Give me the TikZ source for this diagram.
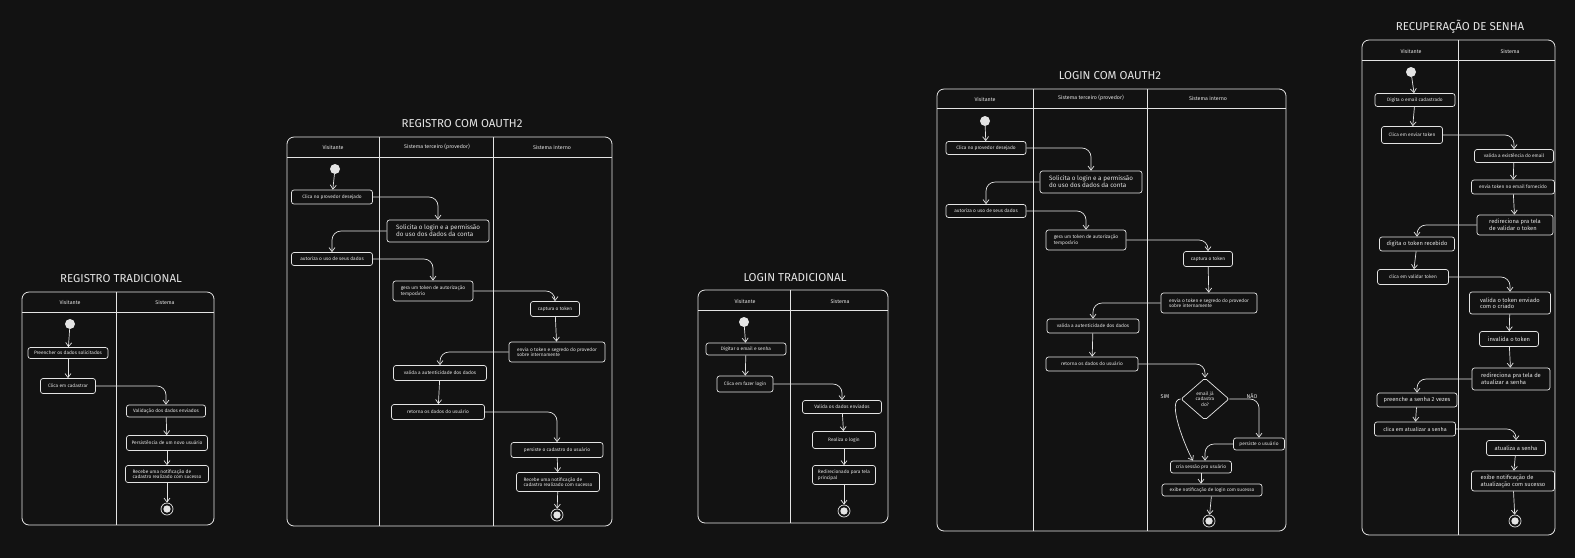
\documentclass[tikz,border=0pt]{standalone}
\usepackage{fontspec}
\setmainfont{Fira Sans}
\usetikzlibrary{arrows.meta,shapes.geometric}
\definecolor{bg}{HTML}{121212}
\definecolor{fg}{HTML}{E4E4E4}
\tikzset{
 box/.style={draw=fg,line width=0.7pt,rounded corners=2.5pt,inner sep=1pt,font=\fontsize{4.8}{5.6}\selectfont,text=fg,align=left},
 arr/.style={draw=fg,line width=0.7pt,-{Straight Barb[length=4pt,width=6pt]},rounded corners=9pt},
 frame/.style={draw=fg,line width=0.8pt,rounded corners=7pt},
 lane/.style={draw=fg,line width=0.8pt},
 hdr/.style={text=fg,font=\fontsize{5.3}{6}\selectfont},
 ttl/.style={text=fg,font=\fontsize{11.5}{13}\selectfont},
 start/.style={circle,fill=fg,minimum size=10pt,inner sep=0pt},
 stop/.style={circle,draw=fg,line width=0.7pt,minimum size=12pt,inner sep=0pt,path picture={\fill[fg] (path picture bounding box.center) circle (3.7pt);}},
 lbl/.style={text=fg,font=\fontsize{5.5}{6}\selectfont}
}
\newcommand\bx[6]{\node[box,minimum width=#4pt,minimum height=#5pt] (#1) at (#2,#3) {#6};}
\begin{document}
\begin{tikzpicture}[x=1pt,y=-1pt]
\fill[bg] (0,0) rectangle (1575,558);
\useasboundingbox (0,0) rectangle (1575,558);

% ===== Diagram 1
\node[ttl] (t1) at (121,279) {REGISTRO TRADICIONAL};
\draw[frame] (22,292) rectangle (214,525);
\draw[lane] (22,312) -- (214,312);
\draw[lane] (116,292) -- (116,525);
\node[hdr] (h1a) at (70,302) {Visitante};
\node[hdr] (h1b) at (165,302) {Sistema};
\node[start] (s1) at (70,324) {};
\bx{a1}{68}{353}{80}{11}{Preencher os dados solicitados}
\bx{a2}{68}{386}{55}{15}{Clica em cadastrar}
\bx{b1}{166}{411}{79}{12}{Validação dos dados enviados}
\bx{b2}{167}{443}{81}{15}{Persistência de um novo usuário}
\bx{b3}{167}{474}{83}{17}{Recebe uma notificação de\\cadastro realizado com sucesso}
\node[stop] (e1) at (167,509) {};
\draw[arr] (s1) -- (a1);
\draw[arr] (a1) -- (a2);
\draw[arr] (a2.east) -| (b1.north);
\draw[arr] (b1) -- (b2);
\draw[arr] (b2) -- (b3);
\draw[arr] (b3) -- (e1);

% ===== Diagram 2
\node[ttl] (t2) at (462,124) {REGISTRO COM OAUTH2};
\draw[frame] (287,137) rectangle (612,526);
\draw[lane] (287,157) -- (612,157);
\draw[lane] (379,137) -- (379,526);
\draw[lane] (493,137) -- (493,526);
\node[hdr] (h2a) at (333,147) {Visitante};
\node[hdr] (h2b) at (437,147) {Sistema terceiro (provedor)};
\node[hdr] (h2c) at (552,147) {Sistema interno};
\node[start] (s2) at (335,169) {};
\bx{c1}{332}{197}{81}{14}{Clica no provedor desejado}
\bx{c2}{438}{231}{102}{22}{\fontsize{6.3}{7}\selectfont Solicita o login e a permissão\\\fontsize{6.3}{7}\selectfont do uso dos dados da conta}
\bx{c3}{332}{259}{81}{13}{autoriza o uso de seus dados}
\bx{c4}{433}{291}{80}{20}{gera um token de autorização\\temporário}
\bx{c5}{555}{309}{49}{15}{captura o token}
\bx{c6}{557}{352}{96}{20}{envia o token e segredo do provedor\\sobre internamente}
\bx{c7}{440}{373}{93}{15}{valida a autenticidade dos dados}
\bx{c8}{438}{412}{93}{15}{retorna os dados do usuário}
\bx{c9}{557}{450}{92}{15}{persiste o cadastro do usuário}
\bx{c10}{558}{482}{83}{19}{Recebe uma notificação de\\cadastro realizado com sucesso}
\node[stop] (e2) at (557,515) {};
\draw[arr] (s2) -- (c1);
\draw[arr] (c1.east) -| (c2.north);
\draw[arr] (c2.west) -| (c3.north);
\draw[arr] (c3.east) -| (c4.north);
\draw[arr] (c4.east) -| (c5.north);
\draw[arr] (c5) -- (c6);
\draw[arr] (c6.west) -| (c7.north);
\draw[arr] (c7) -- (c8);
\draw[arr] (c8.east) -| (c9.north);
\draw[arr] (c9) -- (c10);
\draw[arr] (c10) -- (e2);

% ===== Diagram 3
\node[ttl] (t3) at (795,278) {LOGIN TRADICIONAL};
\draw[frame] (698,290) rectangle (888,523);
\draw[lane] (698,310) -- (888,310);
\draw[lane] (790,290) -- (790,523);
\node[hdr] (h3a) at (745,301) {Visitante};
\node[hdr] (h3b) at (840,301) {Sistema};
\node[start] (s3) at (744,322) {};
\bx{d1}{746}{349}{80}{12}{Digitar o email e senha}
\bx{d2}{745}{384}{56}{16}{Clica em fazer login}
\bx{f1}{842}{407}{79}{13}{Valida os dados enviados}
\bx{f2}{844}{440}{63}{17}{Realiza o login}
\bx{f3}{844}{475}{63}{19}{Redirecionado para tela\\principal}
\node[stop] (e3) at (844,511) {};
\draw[arr] (s3) -- (d1);
\draw[arr] (d1) -- (d2);
\draw[arr] (d2.east) -| (f1.north);
\draw[arr] (f1) -- (f2);
\draw[arr] (f2) -- (f3);
\draw[arr] (f3) -- (e3);

% ===== Diagram 4
\node[ttl] (t4) at (1110,76) {LOGIN COM OAUTH2};
\draw[frame] (937,89) rectangle (1286,531);
\draw[lane] (937,108) -- (1286,108);
\draw[lane] (1033,89) -- (1033,531);
\draw[lane] (1147,89) -- (1147,531);
\node[hdr] (h4a) at (985,99) {Visitante};
\node[hdr] (h4b) at (1091,98) {Sistema terceiro (provedor)};
\node[hdr] (h4c) at (1208,98) {Sistema interno};
\node[start] (s4) at (985,121) {};
\bx{g1}{986}{148}{80}{13}{Clica no provedor desejado}
\bx{g2}{1091}{182}{102}{22}{\fontsize{6.3}{7}\selectfont Solicita o login e a permissão\\\fontsize{6.3}{7}\selectfont do uso dos dados da conta}
\bx{g3}{986}{211}{80}{13}{autoriza o uso de seus dados}
\bx{g4}{1086}{240}{80}{20}{gera um token de autorização\\temporário}
\bx{g5}{1208}{259}{49}{15}{captura o token}
\bx{g6}{1209}{303}{96}{20}{envia o token e segredo do provedor\\sobre internamente}
\bx{g7}{1093}{326}{92}{14}{valida a autenticidade dos dados}
\bx{g8}{1092}{364}{92}{14}{retorna os dados do usuário}
\node[diamond,draw=fg,line width=0.7pt,rounded corners=2pt,minimum width=48pt,minimum height=42pt,inner sep=0pt,text=fg,align=center,font=\fontsize{4.8}{5.4}\selectfont] (dd) at (1205,399) {email já\\cadastra\\do?};
\bx{g9}{1259}{444}{51}{12}{persiste o usuário}
\bx{g10}{1201}{467}{61}{12}{cria sessão pro usuário}
\bx{g11}{1212}{490}{100}{12}{exibe notificação de login com sucesso}
\node[stop] (e4) at (1209,521) {};
\node[lbl] (sim) at (1165,397) {SIM};
\node[lbl] (nao) at (1252,396) {NÃO};
\draw[arr] (s4) -- (g1);
\draw[arr] (g1.east) -| (g2.north);
\draw[arr] (g2.west) -| (g3.north);
\draw[arr] (g3.east) -| (g4.north);
\draw[arr] (g4.east) -| (g5.north);
\draw[arr] (g5) -- (g6);
\draw[arr] (g6.west) -| (g7.north);
\draw[arr] (g7) -- (g8);
\draw[arr] (g8.east) -| (dd.north);
\draw[arr] (dd.east) -| (g9.north);
\draw[arr,rounded corners=0pt] (dd.west) to[out=180,in=120,looseness=0.6] ([xshift=-8pt]g10.north);
\draw[arr] (g9.west) -| ([xshift=4pt]g10.north);
\draw[arr] (g10) -- (g10|-g11.north);
\draw[arr] (g11) -- (e4);

% ===== Diagram 5
\node[ttl] (t5) at (1460,27) {RECUPERAÇÃO DE SENHA};
\draw[frame] (1362,40) rectangle (1555,535);
\draw[lane] (1362,60) -- (1555,60);
\draw[lane] (1458,40) -- (1458,535);
\node[hdr] (h5a) at (1411,51) {Visitante};
\node[hdr] (h5b) at (1510,51) {Sistema};
\node[start] (s5) at (1411,72) {};
\bx{k1}{1415}{100}{80}{13}{Digita o email cadastrado}
\bx{k2}{1412}{135}{61}{17}{Clica em enviar token}
\bx{m1}{1514}{156}{79}{13}{valida a existência do email}
\bx{m2}{1513}{187}{83}{14}{envia token no email fornecido}
\bx{m3}{1515}{225}{76}{20}{\fontsize{5.8}{6.5}\selectfont redireciona pra tela\\\fontsize{5.8}{6.5}\selectfont de validar o token}
\bx{k3}{1417}{244}{75}{14}{\fontsize{5.8}{6.5}\selectfont digita o token recebido}
\bx{k4}{1413}{277}{71}{15}{clica em validar token}
\bx{m4}{1510}{303}{81}{22}{\fontsize{5.8}{6.5}\selectfont valida o token enviado\\\fontsize{5.8}{6.5}\selectfont com o criado}
\bx{m5}{1509}{339}{59}{15}{\fontsize{5.8}{6.5}\selectfont invalida o token}
\bx{m6}{1511}{379}{78}{22}{\fontsize{5.8}{6.5}\selectfont redireciona pra tela de\\\fontsize{5.8}{6.5}\selectfont atualizar a senha}
\bx{k5}{1417}{400}{80}{14}{\fontsize{5.8}{6.5}\selectfont preenche a senha 2 vezes}
\bx{k6}{1415}{429}{81}{14}{\fontsize{5.4}{6}\selectfont clica em atualizar a senha}
\bx{m7}{1516}{448}{59}{15}{\fontsize{5.8}{6.5}\selectfont atualiza a senha}
\bx{m8}{1513}{481}{83}{20}{\fontsize{5.8}{6.5}\selectfont exibe notificação de\\\fontsize{5.8}{6.5}\selectfont atualização com sucesso}
\node[stop] (e5) at (1515,521) {};
\draw[arr] (s5) -- (k1);
\draw[arr] (k1) -- (k2);
\draw[arr] (k2.east) -| (m1.north);
\draw[arr] (m1) -- (m2);
\draw[arr] (m2) -- (m3);
\draw[arr] (m3.west) -| (k3.north);
\draw[arr] (k3) -- (k4);
\draw[arr] (k4.east) -| (m4.north);
\draw[arr] (m4) -- (m5);
\draw[arr] (m5) -- (m6);
\draw[arr] (m6.west) -| (k5.north);
\draw[arr] (k5) -- (k6);
\draw[arr] (k6.east) -| (m7.north);
\draw[arr] (m7) -- (m8);
\draw[arr] (m8) -- (e5);
\end{tikzpicture}
\end{document}
